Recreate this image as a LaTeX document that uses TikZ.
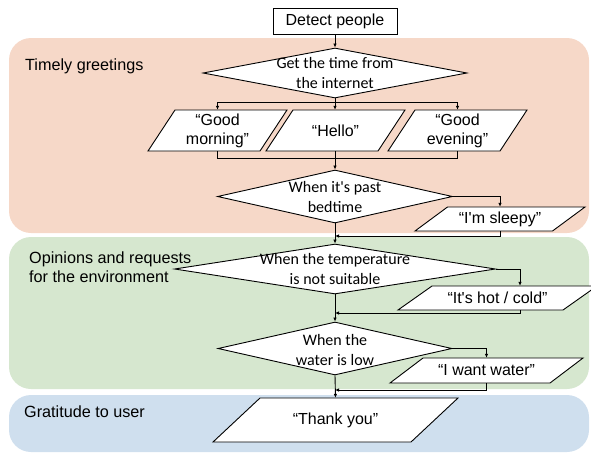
\documentclass[tikz,border=0pt]{standalone}
\usepackage{fontspec}
\setmainfont{Liberation Sans}
\newfontfamily\calib{Carlito}
\usetikzlibrary{shapes.geometric,arrows.meta}
\definecolor{peach}{RGB}{246,216,200}
\definecolor{sage}{RGB}{214,231,207}
\definecolor{sky}{RGB}{207,223,238}
% name, cx, cy, mid width, height, slant, text
\newcommand\mypara[7]{%
  \draw[pshape] (#2-#4/2-#6/2,#3+#5/2) -- (#2-#4/2+#6/2,#3-#5/2) -- (#2+#4/2+#6/2,#3-#5/2) -- (#2+#4/2-#6/2,#3+#5/2) -- cycle;
  \node[ptext, minimum width=#4pt, minimum height=#5pt] (#1) at (#2,#3) {#7};}
\begin{document}
\begin{tikzpicture}[x=1pt,y=-1pt,
  every node/.style={font=\fontsize{16}{19}\selectfont},
  box/.style={draw, fill=white, line width=0.9pt, inner sep=0pt},
  dia/.style={diamond, draw, fill=white, inner sep=0pt, line width=0.9pt},
  dtext/.style={align=center, inner sep=0pt, font=\calib\fontsize{16}{20}\selectfont},
  pshape/.style={draw, fill=white, line width=0.9pt},
  ptext/.style={align=center, inner sep=0pt, font=\fontsize{16}{19}\selectfont},
  lab/.style={anchor=west, align=left, inner sep=0pt, font=\fontsize{16.2}{19}\selectfont},
  arr/.style={-{Latex[length=4pt,width=3.5pt]}, line width=0.9pt},
  con/.style={line width=0.9pt},
  region/.style={rounded corners=22pt}]
\useasboundingbox (0,0) rectangle (591,453);
% regions
\fill[peach, region] (9,38) rectangle (589,233);
\fill[sage, region] (9,237) rectangle (589,389);
\fill[sky, region] (9,395) rectangle (589,452);
\node[lab] (lab1) at (25,66) {Timely greetings};
\node[lab] (lab2) at (29,267) {Opinions and requests\\for the environment};
\node[lab] (lab3) at (24,412) {Gratitude to user};
% nodes
\node[box, minimum width=124pt, minimum height=26pt] (detect) at (335,21) {Detect people};
\node[dia, minimum width=264pt, minimum height=50pt] (d1) at (335,73) {};
\node[dtext] (t1) at (d1.center) {Get the time from\\the internet};
\mypara{gm}{217.5}{130.5}{112}{41}{27}{“Good\\morning”}
\mypara{hello}{335.5}{130.5}{112}{41}{27}{“Hello”}
\mypara{ge}{457.5}{130.5}{112}{41}{27}{“Good\\evening”}
\node[dia, minimum width=235pt, minimum height=53pt] (d2) at (335,196.5) {};
\node[dtext] (t2) at (d2.center) {When it\textquotesingle s past\\bedtime};
\mypara{sleepy}{500}{219}{137.5}{24}{32.5}{“I\textquotesingle m sleepy”}
\node[dia, minimum width=321pt, minimum height=50pt] (d3) at (335,269) {};
\node[dtext] (t3) at (d3.center) {When the temperature\\is not suitable};
\mypara{hot}{497.5}{298}{165}{24}{34}{“It\textquotesingle s hot / cold”}
\node[dia, minimum width=234pt, minimum height=53pt] (d4) at (335,348.5) {};
\node[dtext] (t4) at ([yshift=-1.5pt]d4.center) {When the\\water is low};
\mypara{water}{486.5}{370.5}{160}{25}{33}{“I want water”}
\mypara{thank}{335.5}{420}{198}{44}{47}{“Thank you”}
% connectors
\coordinate (b1) at (335,102);
\coordinate (b2) at (335,158);
\coordinate (j1) at (335,236);
\coordinate (j2) at (335,313);
\coordinate (j3) at (335,390);
\path (hot.north) ++(22.5,0) coordinate (hottop);
\path (hot.south) ++(22.5,0) coordinate (hotbot);
\draw[arr] (detect.south) -- (d1.north);
\draw[con] (d1.south) -- (b1);
\draw[arr] (b1) -| (gm.north);
\draw[arr] (b1) -| (ge.north);
\draw[arr] (b1) -- (b1 |- hello.north);
\draw[con] (gm.south) |- (b2);
\draw[con] (ge.south) |- (b2);
\draw[con] (b2 |- hello.south) -- (b2);
\draw[arr] (b2) -- (d2.north);
\draw[arr] (d2.east) -| (sleepy.north);
\draw[arr] (sleepy.south) |- (j1);
\draw[arr] (d2.south) -- (d3.north);
\draw[arr] (d3.east) -| (hottop);
\draw[arr] (hotbot) |- (j2);
\draw[arr] (d3.south) -- (d4.north);
\draw[arr] (d4.east) -| (water.north);
\draw[arr] (water.south) |- (j3);
\draw[arr] (d4.south) -- (thank.north);
\end{tikzpicture}
\end{document}
